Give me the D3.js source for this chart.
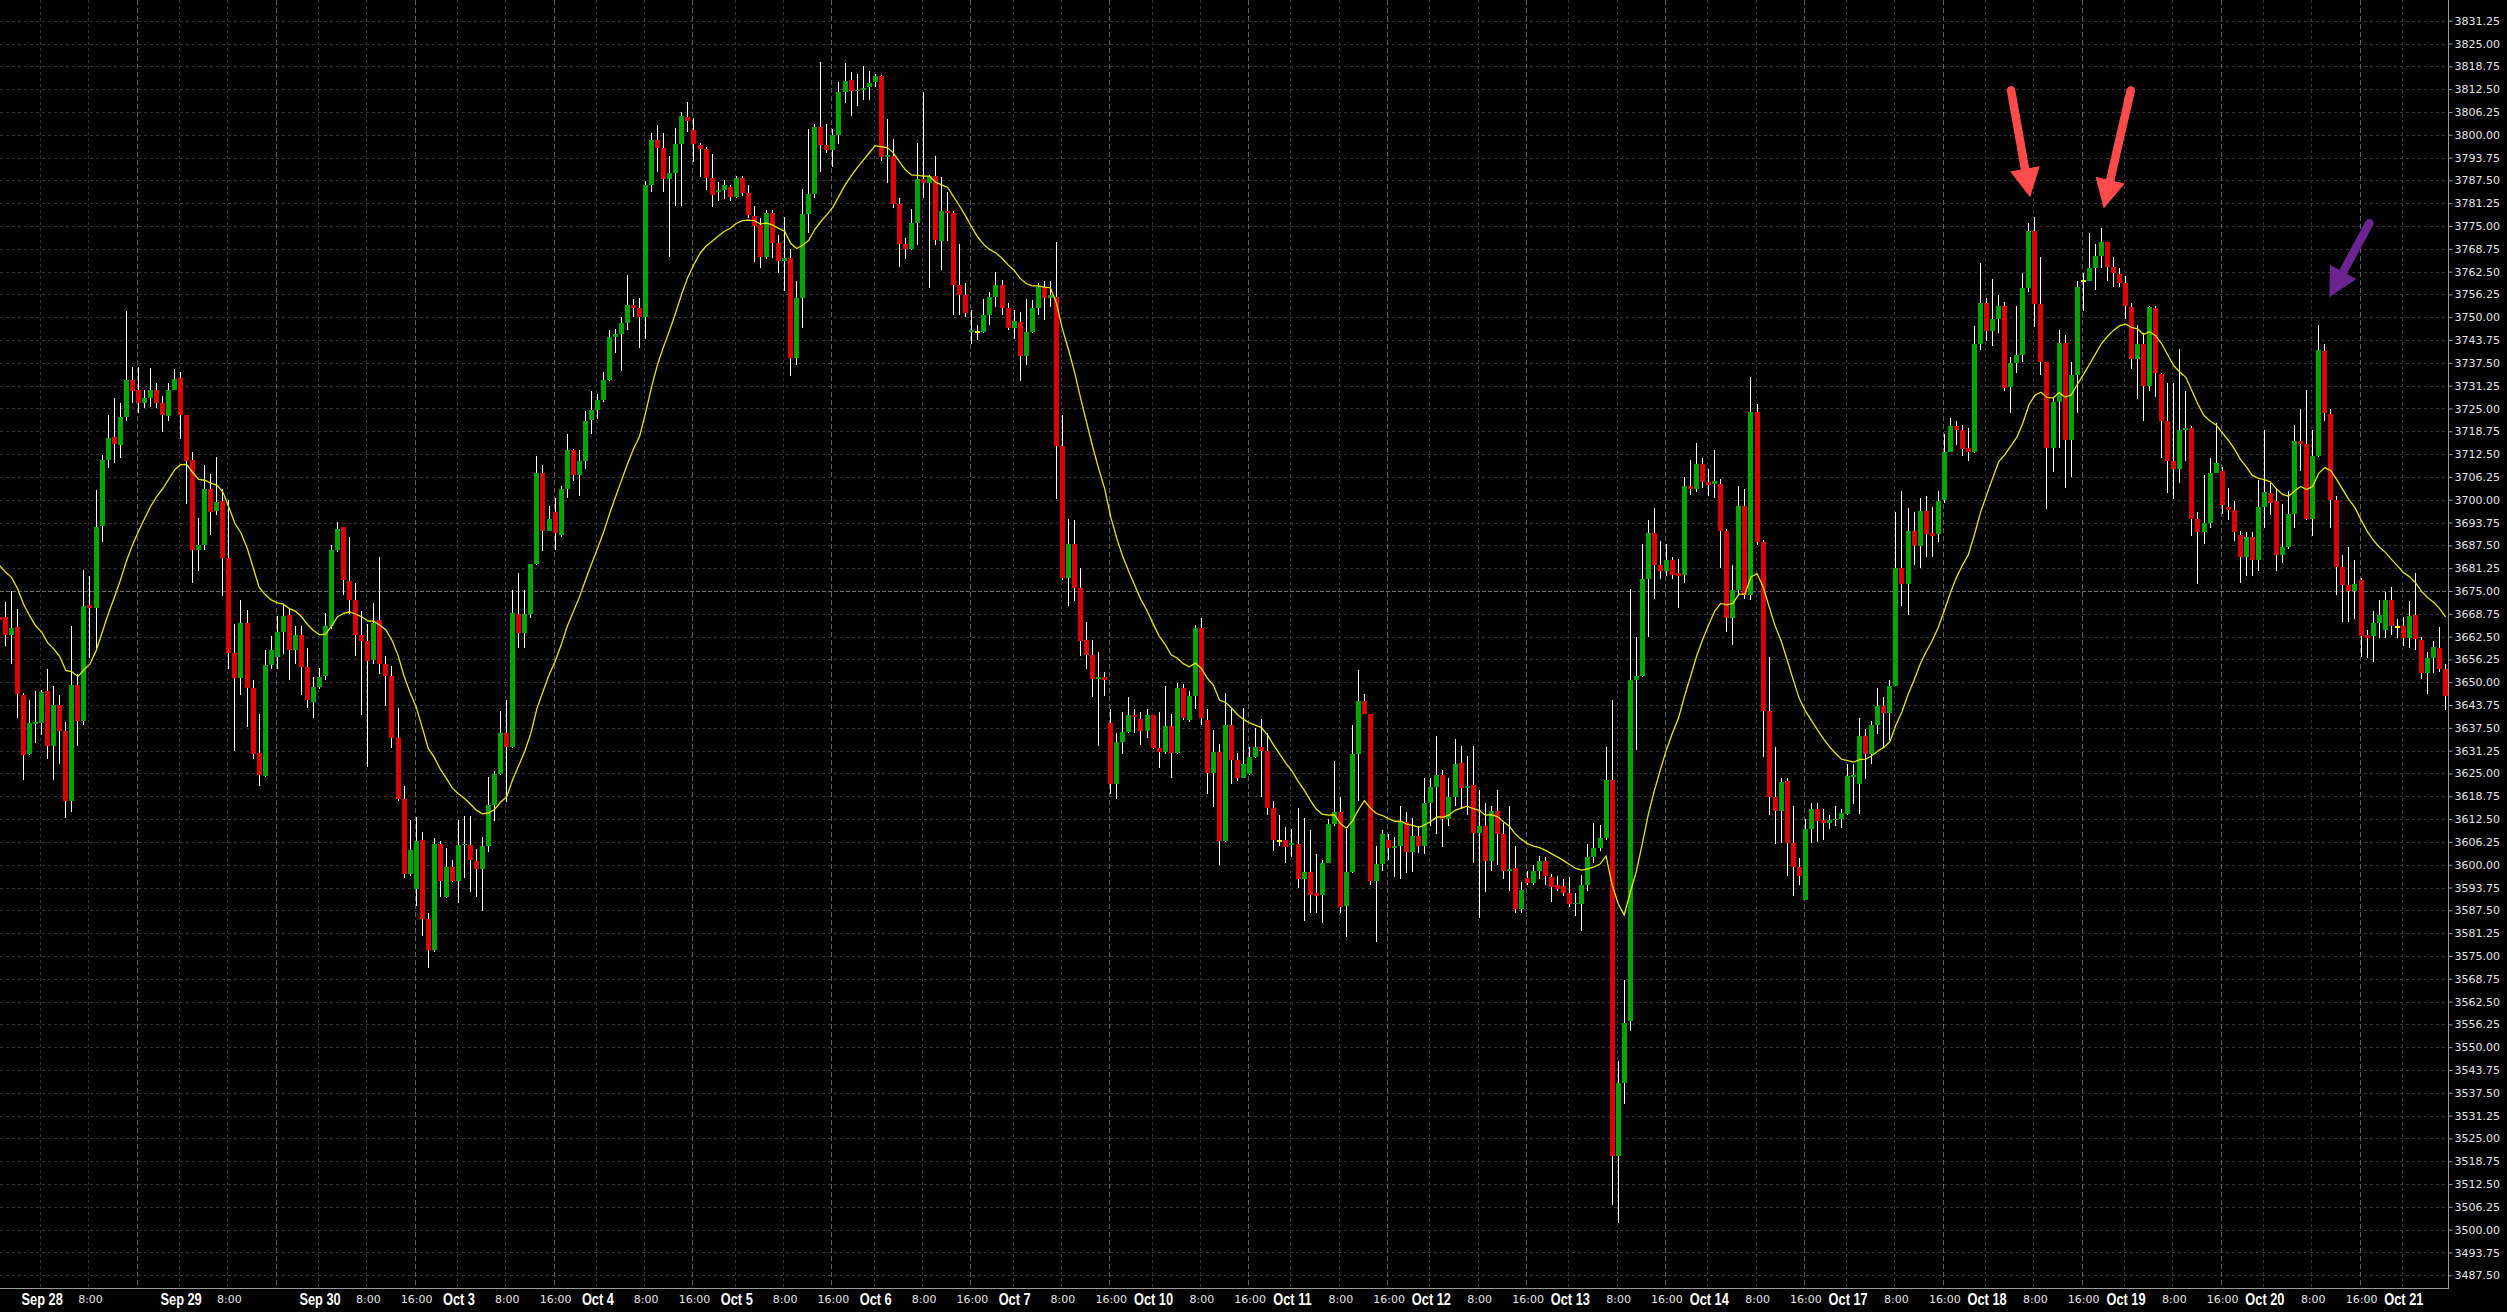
<!DOCTYPE html>
<html><head><meta charset="utf-8">
<script src="https://cdn.jsdelivr.net/npm/d3@7"></script>
<style>
html,body{margin:0;padding:0;background:#000;overflow:hidden;}
svg{display:block;}
</style></head>
<body>
<svg id="chart" width="2507" height="1312"></svg>
<script>
// ---- data: hourly candles, Sep 27 evening .. Oct 21 ----
const opens = [
3668,3668,3663,3665,3646.4,3630.4,3638.5,3638.8,3647.5,3632.6,
3643.8,3636.7,3617.4,3649.3,3639.4,3671.1,3670.3,3692.8,3710.9,3717.2,
3715,3722.8,3732.7,3730.1,3726.6,3727.9,3730.1,3726.5,3722.9,3730.2,
3733.4,3723.3,3710.9,3686.3,3687.7,3703,3696.9,3699.6,3684.1,3658,
3651.2,3666.3,3648.3,3630.7,3624.3,3654.8,3656.8,3663.8,3668.4,3658.7,
3662.8,3654.1,3644.6,3648.8,3651.7,3665.3,3686.3,3692.4,3677.6,3672.5,
3662.8,3661.2,3656.1,3667,3655.1,3651.7,3634.8,3618.1,3597.5,3593.4,
3606.9,3585,3576.5,3605.8,3591.2,3599.5,3595.6,3605.5,3605.3,3600.9,
3598.9,3605,3616.3,3624.9,3636.2,3632.3,3668.6,3663.4,3668.6,3682.4,
3707.3,3691.4,3696.7,3690.3,3703,3713.6,3706.9,3710.7,3721.8,3724.7,
3727.3,3732.7,3744.6,3745.3,3748.5,3753.3,3752.6,3750.2,3786.2,3798.5,
3796.4,3787.9,3789.4,3797.4,3804.8,3801.2,3797.1,3796.1,3788.1,3784.2,
3784.8,3785.8,3782.9,3788.1,3784,3777.8,3775.3,3766.6,3778.5,3770.3,
3765.5,3766.3,3738.8,3755.3,3778.2,3783.7,3802.2,3797.1,3795.9,3800,
3811.6,3814.9,3812,3812.3,3813,3814.5,3816,3793.9,3794.2,3781.1,
3770,3768.8,3775.8,3788,3786.9,3788.7,3771,3779.2,3778.5,3758.7,
3756.2,3746,3745.9,3745.9,3750.7,3755.5,3758.7,3752.6,3747.1,3748.8,
3739.4,3746,3752.4,3758.2,3755.3,3755.5,3714.8,3678.6,3688,3675.9,
3661.5,3657.5,3651,3651.3,3638.7,3622,3633.6,3636.4,3641.1,3640,
3636.5,3641.1,3632.1,3631,3637.9,3630.7,3648.4,3639.7,3646.2,3664.8,
3639.7,3625.2,3631,3606.6,3638.3,3628.6,3623.7,3624.9,3629.5,3632.2,
3631.1,3615.5,3606.5,3606.8,3605.5,3605.7,3596,3598,3592.2,3591.7,
3600.6,3611.1,3614.5,3588.8,3598,3630.3,3644.8,3641.4,3595.5,3600.2,
3606.8,3604.5,3605.2,3611.8,3603.4,3608,3605.2,3616.8,3621.4,3624.5,
3612.5,3618.6,3627.8,3621.1,3621.8,3608.8,3610.6,3600.9,3614.8,3608.3,
3598.3,3599.1,3588,3596.3,3594.9,3598.3,3600.9,3596.5,3594.5,3594.2,
3592.2,3589.1,3589.1,3594.5,3602.2,3604.5,3607.3,3623.2,3520.2,3540.3,
3557.1,3650.6,3651.8,3678.3,3690.9,3682.1,3680.6,3683.4,3679.8,3679.5,
3703.7,3702.9,3709.8,3704.9,3704.4,3704.4,3691.4,3667.5,3675.2,3698.3,
3674,3724,3688.3,3642.2,3618.6,3614.8,3622.9,3606,3599.4,3590.4,
3609.9,3615.2,3612.2,3611.4,3612.2,3612.5,3614,3624,3622,3635.3,
3630.3,3638.4,3643.5,3641.6,3648.9,3681.2,3676.8,3691.5,3687.4,3696.9,
3690.8,3690.6,3700,3713.2,3720.1,3719,3714.3,3713.2,3742.6,3753.9,
3746.2,3749.5,3753.2,3730.8,3737.4,3739.6,3757.9,3773.7,3753.6,3737.7,
3714.3,3726.7,3742.9,3716.5,3734.1,3759.8,3759.8,3763.4,3766.7,3770.5,
3763.7,3761.9,3759.3,3752.7,3738.5,3742.6,3731.1,3752.4,3734.5,3721.6,
3710.6,3708.4,3719,3719.7,3694.7,3691.2,3693.7,3707.4,3707.9,3698.1,
3697.1,3690.3,3684.2,3689.7,3683.4,3698.1,3701.8,3699.6,3684.9,3687.1,
3696.2,3716,3715.4,3694.7,3712.1,3740.7,3723.5,3699.9,3681.5,3676.5,
3675.1,3678,3662.9,3662.6,3666.3,3664.3,3672.4,3665.1,3665.4,3662.2,
3668.4,3661.5,3652.4,3656.7,3659.4,3653.5];
const highs = [
3671,3672,3675,3670,3647,3645,3647.5,3647.8,3653.6,3649,
3646.4,3639,3665.3,3652.2,3680.8,3679,3702.7,3712.3,3723.3,3727.9,
3726.6,3751.6,3736.3,3736.3,3730.1,3736,3732,3728.4,3732,3735.9,
3734.9,3723.3,3713.1,3695,3709.5,3707,3711.7,3703,3699.8,3666,
3672.5,3669.9,3650.7,3641.3,3658.7,3662.6,3668.1,3671.4,3670.3,3665.3,
3665.3,3659.4,3651.5,3653.9,3668.9,3687.7,3693.8,3692.6,3689.9,3677.1,
3669.6,3666,3671.8,3684.4,3657.3,3654.4,3642.8,3621.7,3612.3,3613,
3609,3586.9,3607.2,3606.5,3604.7,3601.4,3612.3,3613.3,3613.3,3604.3,
3607.6,3623.9,3625.8,3642,3645,3675.4,3679.8,3675.4,3682.4,3712,
3709.5,3698.3,3700.4,3703.7,3717.9,3713.8,3713.6,3724.4,3729.8,3729.1,
3734.9,3746.5,3746.8,3750,3761.5,3755,3755.3,3787.2,3800.4,3802.6,
3800.4,3794.2,3801.9,3806.1,3809,3804.6,3797.8,3796.7,3794.6,3787,
3787.7,3786.2,3788.8,3788.8,3786.2,3780.4,3777.1,3779.4,3779.4,3772.4,
3777.5,3768.8,3759.8,3785.2,3801.5,3802.9,3820,3802.9,3801.7,3814.5,
3819.6,3817.1,3816.7,3818.9,3817.4,3816.7,3816.3,3804.4,3798.9,3782.6,
3771.7,3779.7,3797.8,3811.6,3789.1,3794.2,3788.4,3784.3,3779,3770.2,
3759.4,3752.1,3747.8,3755,3756.8,3762.3,3760.1,3753.9,3752.1,3751.4,
3755,3754.7,3759.4,3759.8,3759.8,3770.7,3723.1,3694.8,3694.4,3681.3,
3666.5,3661.5,3658.3,3652.7,3642.6,3636.1,3641.9,3645.9,3642.6,3641.9,
3642.6,3641.1,3641.9,3649.1,3641.4,3649.9,3649.4,3647.7,3665.8,3667.7,
3642.6,3636.8,3633.2,3647,3642.9,3630.6,3642.9,3632.2,3637.5,3639.8,
3636,3617.5,3613.7,3610.3,3609.9,3615.5,3612.9,3609.4,3602.9,3601.4,
3612.5,3628.3,3618.6,3609.9,3638.3,3653.4,3646.8,3641.4,3605.2,3609.4,
3608.3,3607.5,3616,3614.5,3612.9,3610.6,3623.7,3623.7,3635.2,3626,
3623.7,3634.5,3632.5,3629.8,3632.5,3620.6,3616.8,3616,3620.6,3611.4,
3616,3605.2,3595.2,3598.3,3599.9,3602.5,3602.2,3597.5,3596.8,3596,
3596.5,3592.2,3597.1,3605.7,3611.4,3610.9,3632.2,3645.2,3546.1,3568.3,
3675.5,3662.4,3687.8,3694.4,3697.8,3688.8,3687.8,3684.4,3683.7,3706.3,
3710.9,3715.5,3711.4,3708.3,3713.7,3705.7,3692.1,3682.1,3703.7,3702.9,
3733.7,3726.3,3689.1,3656.8,3632.2,3623.7,3623.7,3616,3601.7,3612.5,
3616.8,3616.8,3615.2,3613.7,3616,3615.2,3627.7,3627.7,3640.1,3637.2,
3639.4,3648.5,3646,3650.7,3696.6,3702.5,3697.7,3696.6,3700.6,3701.1,
3698.1,3702.5,3718,3722.3,3721.6,3720.6,3719.7,3747.6,3764.9,3755.4,
3760.5,3756.1,3754.3,3739.2,3753.2,3762.2,3775.9,3777.4,3766.4,3737.7,
3728.2,3746.5,3745.1,3737.7,3759.8,3762,3773.2,3770,3774.4,3770.5,
3766.4,3763.4,3761.2,3753.9,3748,3745.8,3753.2,3753.2,3734.8,3731.9,
3731.9,3741.4,3729.7,3720.1,3696.6,3706.9,3711.3,3721.1,3709.1,3703.3,
3699.6,3691.5,3691.2,3691.2,3705.4,3719.1,3704.7,3703.3,3698.8,3702.5,
3720.6,3724.9,3730,3719.1,3748,3742.6,3724.9,3701.1,3684.9,3687.1,
3683.4,3678.6,3664.4,3669.5,3672.4,3674.6,3676.1,3667.3,3668,3672.2,
3680,3662.4,3658.3,3661.3,3665,3655.1];
const lows = [
3661,3660,3655,3640.3,3623.2,3630,3633.3,3635.5,3629,3623.2,
3627.5,3612.7,3614.5,3632.6,3638.4,3656.5,3658.7,3688.5,3708.8,3710.2,
3711.4,3721.5,3726.5,3723.7,3725,3725.5,3725.2,3718.6,3721.5,3730.1,
3716.7,3698.9,3677.1,3680.5,3686.3,3690.2,3695.7,3673.5,3653.6,3631.2,
3646.4,3637.7,3629,3621.7,3623.9,3653.6,3653.6,3657.7,3650.7,3655.1,
3646.4,3642.8,3640.3,3648.1,3650.7,3664.5,3685.6,3674,3668.6,3657.3,
3640.9,3626.8,3655.1,3652.2,3643.5,3631.9,3617.4,3596.3,3597,3588.6,
3580.4,3571.7,3576,3591.2,3591,3595.3,3589.5,3596.3,3592.4,3591.2,
3587.3,3603.6,3611.9,3624.6,3617.1,3631.9,3659.4,3659.4,3667.7,3682.2,
3686,3691.4,3686.3,3689.9,3700.4,3705.2,3701.1,3708.3,3717.9,3722.1,
3726.9,3732.4,3740.3,3735.2,3746.6,3750,3741.7,3744.1,3784.3,3789.8,
3784.3,3766.6,3780.4,3780.4,3800.7,3792.5,3788.4,3784.8,3780.1,3781.9,
3782.3,3781.9,3782.6,3783.3,3777.1,3765.2,3763.4,3765.9,3766.3,3762,
3757.2,3734,3736.9,3747.1,3773.2,3782.6,3789.8,3794.9,3791.3,3797.4,
3808.7,3805.1,3808,3809.4,3809.4,3813,3792.8,3786.9,3780,3763.7,
3765.9,3768.5,3769.8,3782.6,3757.9,3769.8,3763,3771,3750.7,3750.7,
3750,3742.7,3743.7,3745.6,3747.8,3752.8,3750.7,3746.6,3744.1,3732.5,
3736.9,3745.6,3750.7,3749.2,3752.8,3700.2,3678.1,3670.9,3672.3,3657.1,
3653.5,3645.9,3632.4,3646.2,3619.4,3617.9,3630.2,3636.1,3636.1,3632.9,
3634.6,3631.7,3626.6,3630.2,3623.7,3630.2,3639.7,3639,3642.6,3638.2,
3619.4,3615.8,3599.8,3606.3,3622.2,3622.9,3623.7,3624.5,3629.1,3618.6,
3613.7,3603.7,3605.2,3600.6,3602.2,3593.7,3584.5,3586.8,3586.8,3584,
3600.6,3610.6,3586.8,3580.3,3597.6,3617.5,3641.4,3594.5,3578.8,3598.3,
3601.4,3596.5,3596,3597.6,3598,3603.2,3602.9,3610.6,3608.3,3604.8,
3610.6,3616,3615.2,3613.7,3600.6,3585.3,3592.5,3598.3,3599.9,3596,
3592.9,3586.8,3586.8,3594.5,3594.5,3596,3594.5,3589.9,3592.9,3591.4,
3588.3,3586,3581.7,3592.9,3600.6,3603.7,3606.8,3506.8,3501.7,3534.5,
3554.5,3631.4,3651.5,3662.4,3672.9,3678.3,3679.1,3678.3,3670.3,3677.1,
3701.4,3702.1,3703.2,3701.1,3700.6,3681.4,3663.7,3660.3,3673.7,3672.9,
3672.4,3687.5,3629.4,3613.7,3605.7,3606,3596.8,3591.4,3594.5,3590.3,
3606,3606.3,3606.8,3609.9,3610.6,3610,3613.7,3616.6,3614,3623.6,
3627.7,3635.7,3632,3634.3,3648.9,3671,3668.3,3682,3681.2,3684.2,
3684.2,3688.3,3699,3713.2,3715,3712,3710.6,3712.8,3741,3743.6,
3742.2,3745.8,3729.7,3723.8,3734.8,3737.7,3756.8,3747.3,3734.1,3697.4,
3707.7,3714.3,3703.2,3706.2,3723.8,3751.7,3759.8,3757.6,3763.4,3759.8,
3758.3,3758.3,3749.5,3735.8,3727.5,3721.6,3729.7,3728.2,3711.3,3701.8,
3700.3,3704.7,3710.6,3690,3676.8,3687.8,3692.2,3707.4,3696.2,3694.4,
3688.6,3677.1,3679,3679,3680.5,3692.2,3695.9,3680.5,3682.7,3686.4,
3692.2,3708,3694.4,3690,3711.8,3721.6,3692.2,3673.9,3666.6,3666.6,
3667.3,3657,3656.6,3655.5,3662.2,3662.2,3662.9,3662.2,3660,3659.4,
3658.8,3650.8,3646.9,3652.4,3652.8,3642.3];
const closes = [
3667,3663,3664.8,3646.7,3630.1,3638.7,3639.2,3647.3,3632.6,3643.8,
3636.7,3617.4,3649.3,3639.4,3670.8,3670.2,3692.5,3710.9,3716.8,3715.2,
3722.8,3732.7,3729.8,3726.6,3727.9,3730.2,3726.5,3723.3,3730.1,3733.1,
3723.3,3710.7,3686.3,3687.7,3703,3696.7,3699.3,3684.1,3658,3651.2,
3666.3,3648.3,3630.4,3624.6,3654.8,3658.7,3663.8,3668.1,3658.7,3662.8,
3654.1,3645,3648.8,3651.5,3665.3,3686.3,3692.1,3677.9,3672.5,3662.8,
3661.3,3655.8,3666.3,3655.1,3651.7,3634.8,3618.1,3597.5,3604,3606.5,
3585,3576.5,3605.8,3595.6,3599.5,3595.6,3605.3,3605.7,3601.4,3598.9,
3605,3616.3,3624.9,3636.2,3632.3,3668.9,3663.4,3668.6,3682.4,3707.3,
3691.4,3694.7,3690.9,3703,3713.6,3706.9,3710.7,3721.5,3724.7,3727.3,
3732.7,3744.6,3745.5,3748.5,3753.3,3752.6,3750.2,3786.2,3798.5,3796.4,
3787.9,3789.4,3797.4,3805.1,3803.9,3797.4,3796.2,3788.1,3783.6,3784.8,
3786.1,3782.9,3788.1,3784,3777.9,3775,3766.6,3778.5,3770.3,3765.5,
3766.3,3738.8,3755.3,3778.2,3783.7,3802.2,3797.1,3795.9,3800,3811.6,
3814.8,3812,3812.3,3812.8,3814.2,3816,3793.9,3794.5,3781.1,3770,
3768.8,3775.8,3788,3786.7,3788.7,3771.3,3779.2,3778.5,3758.7,3756,
3751.1,3746.4,3745.9,3750.7,3755.5,3758.7,3752.6,3747.1,3748.9,3739.4,
3746,3752.4,3758.4,3755.3,3756,3714.8,3678.6,3688,3675.9,3661.2,
3657.5,3651,3651.3,3650.6,3622,3633.6,3636.4,3641.1,3640.4,3636.5,
3641.1,3632,3631,3637.9,3630.7,3648.4,3640.1,3646.2,3664.8,3640.1,
3625.2,3631,3606.6,3638.2,3628.6,3623.7,3627.5,3629.5,3632.2,3631.1,
3615.5,3606.8,3606.5,3604.8,3606,3596,3598,3591.7,3591.4,3600.6,
3611.1,3614.5,3588.3,3598,3630.3,3644.8,3641.4,3595.5,3600.2,3608.3,
3604.5,3605.2,3611.8,3603.4,3608,3605.2,3616.8,3621.4,3624.5,3612.5,
3618.6,3627.5,3621.1,3621.5,3608.8,3610.6,3600.9,3614.8,3608.3,3598.3,
3598.8,3588,3593.2,3594.9,3598.3,3600.9,3596.8,3594,3593.3,3592.2,
3589.1,3589.4,3594.5,3602.2,3604.5,3607.3,3623.2,3520.2,3540.3,3556.5,
3650.6,3651.8,3678.3,3690.9,3682.1,3680.6,3683.4,3679.5,3679.1,3703.7,
3702.9,3709.8,3704.9,3704.1,3705.2,3691.4,3667.5,3675.2,3698.3,3674,
3724,3688.3,3642.2,3618.6,3614.8,3622.6,3606,3599.4,3596.8,3609.9,
3615.2,3611.9,3611.4,3612.2,3612.5,3614.2,3624.3,3624.6,3635.3,3630.3,
3638.4,3643.5,3641.6,3648.9,3681.2,3676.8,3691.5,3687.4,3696.9,3690.6,
3690.1,3699.6,3713.2,3720.1,3719.1,3714,3713.2,3742.6,3753.9,3746.2,
3749.5,3753.2,3730.7,3737.4,3739.6,3757.9,3773.7,3753.6,3737.7,3714.3,
3726.7,3742.9,3716.5,3734.1,3758.3,3759.8,3763.4,3766.7,3770.5,3763.7,
3762.2,3759.3,3753.2,3738.5,3742.6,3731.1,3752.9,3734.8,3721.6,3710.6,
3708.4,3719,3719.7,3694.7,3691.2,3693.7,3707.4,3710.2,3698.5,3697.1,
3691.2,3684.2,3689.7,3683.4,3698.1,3702.1,3699.1,3684.9,3687.1,3696.2,
3716,3715.4,3694.7,3712.1,3741.1,3723.8,3699.9,3681.5,3676.5,3675.1,
3676.8,3662.6,3662.2,3666.3,3668.3,3672.4,3665.5,3665.1,3662.2,3668.1,
3661.8,3652.6,3656.7,3659.6,3653.5,3646.2];

// moving average (EMA 20) – value at first visible bar
const maPeriod = 20;
const maStart = 3682;

// price axis
const priceMin = 3487.5, priceMax = 3831.25, priceStep = 6.25;
const refLevel = 3675;

// time axis (bar index, label)
const tickBars = [7,15,30,38,53,61,69,76,84,92,99,107,115,122,130,138,145,153,161,168,176,184,191,199,207,214,222,230,237,245,253,260,268,276,283,291,299,306,314,322,329,337,345,352,360,368,375,383,391,398];
const tickLabels = ["Sep 28","8:00","Sep 29","8:00","Sep 30","8:00","16:00","Oct 3","8:00","16:00","Oct 4","8:00","16:00","Oct 5","8:00","16:00","Oct 6","8:00","16:00","Oct 7","8:00","16:00","Oct 10","8:00","16:00","Oct 11","8:00","16:00","Oct 12","8:00","16:00","Oct 13","8:00","16:00","Oct 14","8:00","16:00","Oct 17","8:00","16:00","Oct 18","8:00","16:00","Oct 19","8:00","16:00","Oct 20","8:00","16:00","Oct 21"];
const sessionBars = [23,46,69,92,115,138,161,184,207,230,253,276,299,322,345,368,391];

// annotation arrows (tip at bar / price)
const arrowBars = [336.2, 348.4, 385.75];
const arrowPrices = [3782.85, 3779.8, 3755.45];
const arrowColors = ["#ff4b4b", "#ff4b4b", "#6b2490"];
const arrowTailOffsets = [[-19,-107],[27,-118],[40,-74]];

// ---- drawing ----
const W = 2507, H = 1312;
const plotRight = 2448, plotBottom = 1288;
const svg = d3.select("#chart");
svg.append("rect").attr("width", W).attr("height", H).attr("fill", "#000");

const n = closes.length;
const x = d3.scaleLinear().domain([0, n - 1]).range([-0.6, 2445.6]);
const y = d3.scaleLinear().domain([priceMin, priceMax]).range([1275.3, 20.7]);

svg.append("defs").append("clipPath").attr("id", "plotClip")
  .append("rect").attr("x", 0).attr("y", 0).attr("width", plotRight).attr("height", plotBottom);

const grid = svg.append("g").attr("clip-path", "url(#plotClip)");
const priceTicks = d3.range(priceMin, priceMax + 0.001, priceStep);

grid.selectAll("line.hg").data(priceTicks).join("line")
  .attr("x1", 0).attr("x2", plotRight)
  .attr("y1", d => Math.round(y(d)) + 0.5).attr("y2", d => Math.round(y(d)) + 0.5)
  .attr("stroke", "#333").attr("stroke-width", 1).attr("stroke-dasharray", "3,3");

const sessionSet = new Set(sessionBars);
const vBars = Array.from(new Set(tickBars.concat(sessionBars))).sort((a, b) => a - b);
grid.selectAll("line.vg").data(vBars).join("line")
  .attr("x1", d => Math.round(x(d) - 1.5) + 0.5).attr("x2", d => Math.round(x(d) - 1.5) + 0.5)
  .attr("y1", 0).attr("y2", plotBottom)
  .attr("stroke", d => sessionSet.has(d) ? "#5e5e5e" : "#333")
  .attr("stroke-width", 1)
  .attr("stroke-dasharray", d => sessionSet.has(d) ? "5,3" : "3,3");

grid.append("line")
  .attr("x1", 0).attr("x2", plotRight)
  .attr("y1", Math.round(y(refLevel)) + 0.5).attr("y2", Math.round(y(refLevel)) + 0.5)
  .attr("stroke", "#6e6e6e").attr("stroke-dasharray", "4,2");

// candles
const idx = d3.range(n);
const cg = svg.append("g").attr("clip-path", "url(#plotClip)").attr("shape-rendering", "crispEdges");
const bodyLeft = i => Math.round(x(i) - 2.5);

cg.selectAll("rect.wick").data(idx).join("rect")
  .attr("x", i => bodyLeft(i) + 2)
  .attr("y", i => Math.round(y(Math.max(highs[i], opens[i], closes[i]))))
  .attr("width", 1)
  .attr("height", i => Math.max(1, Math.round(y(Math.min(lows[i], opens[i], closes[i]))) - Math.round(y(Math.max(highs[i], opens[i], closes[i])))))
  .attr("fill", "#fff");

cg.selectAll("rect.body").data(idx).join("rect")
  .attr("x", i => bodyLeft(i))
  .attr("width", 5)
  .attr("y", i => opens[i] === closes[i] ? Math.round(y(opens[i])) - 1 : Math.round(y(Math.max(opens[i], closes[i]))))
  .attr("height", i => opens[i] === closes[i] ? 2 : Math.max(1, Math.round(y(Math.min(opens[i], closes[i]))) - Math.round(y(Math.max(opens[i], closes[i])))))
  .attr("fill", i => opens[i] === closes[i] ? "#ffff00" : (closes[i] > opens[i] ? "#00a400" : "#dd0000"));

// EMA
const k = 2 / (maPeriod + 1);
const ema = [];
closes.forEach((c, i) => { ema.push(i === 0 ? maStart : ema[i - 1] + k * (c - ema[i - 1])); });
svg.append("g").attr("clip-path", "url(#plotClip)").append("path")
  .datum(ema)
  .attr("d", d3.line().x((d, i) => x(i)).y(d => y(d)))
  .attr("fill", "none").attr("stroke", "#e6e600").attr("stroke-width", 1.3);

// arrows
const ag = svg.append("g");
arrowBars.forEach((b, i) => {
  const tx = x(b), ty = y(arrowPrices[i]);
  const sx = tx + arrowTailOffsets[i][0], sy = ty + arrowTailOffsets[i][1];
  const len = Math.hypot(tx - sx, ty - sy);
  const ux = (tx - sx) / len, uy = (ty - sy) / len;
  const headLen = 29, headW = 30;
  const bx = tx - ux * headLen, by = ty - uy * headLen;
  const px = -uy, py = ux;
  ag.append("line").attr("x1", sx).attr("y1", sy).attr("x2", bx + ux * 3).attr("y2", by + uy * 3)
    .attr("stroke", arrowColors[i]).attr("stroke-width", 8.5).attr("stroke-linecap", "round");
  ag.append("path")
    .attr("d", `M${tx},${ty}L${bx + px * headW / 2},${by + py * headW / 2}L${bx - px * headW / 2},${by - py * headW / 2}Z`)
    .attr("fill", arrowColors[i]);
});

// price axis
const yAxis = d3.axisRight(y).tickValues(priceTicks).tickFormat(d3.format(".2f")).tickSize(4).tickPadding(2);
const yg = svg.append("g").attr("transform", `translate(${plotRight + 0.5},0)`).call(yAxis);
yg.select(".domain").remove();
yg.selectAll(".tick line").attr("stroke", "#9a9a9a");
yg.selectAll(".tick text").attr("fill", "#e4e4e4").attr("font-family", "'DejaVu Sans', sans-serif").attr("font-size", "11px");

// time axis
const isTime = i => /^\d/.test(tickLabels[i]);
const xAxis = d3.axisBottom(x).tickValues(tickBars).tickFormat((d, i) => tickLabels[i]).tickSize(0).tickPadding(0);
const xg = svg.append("g").attr("transform", `translate(0,${plotBottom})`).call(xAxis);
xg.select(".domain").remove();
xg.selectAll(".tick text")
  .attr("dy", null)
  .attr("y", (d, i) => isTime(i) ? 15 : 17)
  .attr("transform", (d, i) => isTime(i) ? null : "scale(0.8,1)")
  .attr("fill", (d, i) => isTime(i) ? "#e4e4e4" : "#ffffff")
  .attr("font-family", (d, i) => isTime(i) ? "'DejaVu Sans', sans-serif" : "'Liberation Sans', Arial, sans-serif")
  .attr("font-weight", (d, i) => isTime(i) ? "normal" : "bold")
  .attr("font-size", (d, i) => isTime(i) ? "11px" : "16px");

// frame lines
svg.append("line").attr("x1", plotRight + 0.5).attr("x2", plotRight + 0.5).attr("y1", 0).attr("y2", plotBottom + 1)
  .attr("stroke", "#9a9a9a");
svg.append("line").attr("x1", 0).attr("x2", plotRight + 1).attr("y1", plotBottom + 0.5).attr("y2", plotBottom + 0.5)
  .attr("stroke", "#9a9a9a");
</script>
</body></html>
